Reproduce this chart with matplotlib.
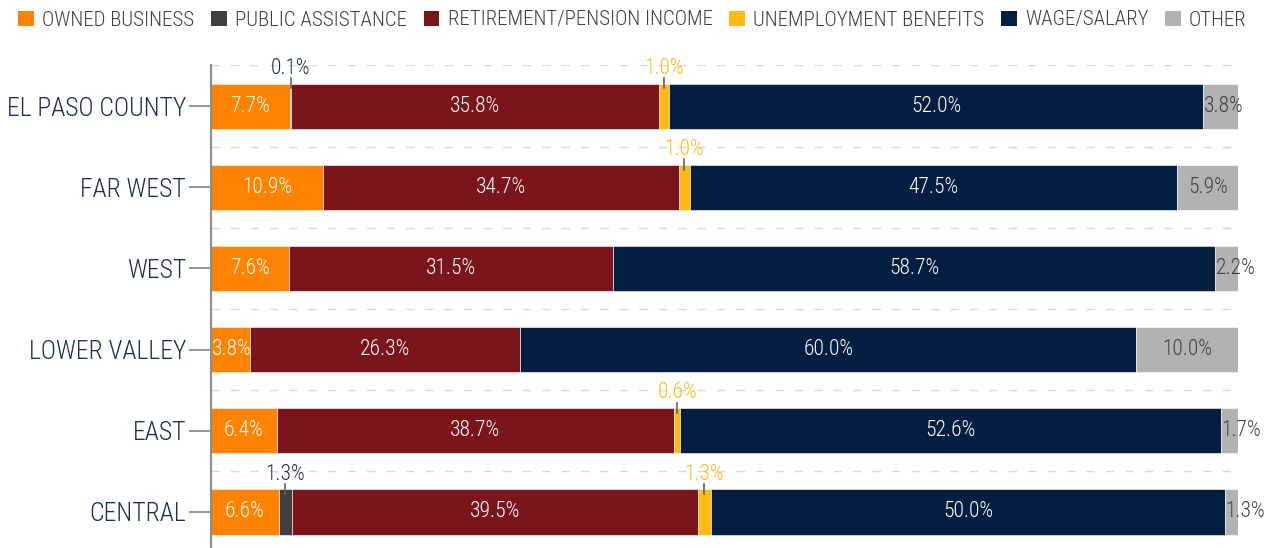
import numpy as np
import matplotlib
matplotlib.use("Agg")
import matplotlib.pyplot as plt
from matplotlib import font_manager
from matplotlib.patches import Patch

names = set(f.name for f in font_manager.fontManager.ttflist)
fam = "Roboto Condensed" if "Roboto Condensed" in names else "Roboto"
plt.rcParams['font.family'] = [fam, 'DejaVu Sans']
plt.rcParams['font.weight'] = 'light'

regions = ["EL PASO COUNTY", "FAR WEST", "WEST", "LOWER VALLEY", "EAST", "CENTRAL"]
series = ["OWNED BUSINESS", "PUBLIC ASSISTANCE", "RETIREMENT/PENSION INCOME",
          "UNEMPLOYMENT BENEFITS", "WAGE/SALARY", "OTHER"]
owned = [7.7, 10.9, 7.6, 3.8, 6.4, 6.6]
public = [0.1, 0.0, 0.0, 0.0, 0.0, 1.3]
retire = [35.8, 34.7, 31.5, 26.3, 38.7, 39.5]
unemp = [1.0, 1.0, 0.0, 0.0, 0.6, 1.3]
wage = [52.0, 47.5, 58.7, 60.0, 52.6, 50.0]
other = [3.8, 5.9, 2.2, 10.0, 1.7, 1.3]
values = [owned, public, retire, unemp, wage, other]

colors = ["#FF8300", "#404040", "#7B151C", "#FDBA12", "#031E41", "#B2B2B2"]
inside_text = ["white", "white", "white", "white", "white", "#404040"]
above_text = ["#404040", "#1F2D4D", "white", "#FDBA12", "white", "#404040"]
label_above = [False, True, False, True, False, False]

fig = plt.figure(figsize=(12.65, 5.48), dpi=100)
ax = fig.add_axes([211/1265, 0, (1238-211)/1265, 1 - 65/548])

y = np.arange(len(regions))
h = 0.556
left = np.zeros(len(regions))
for k, vals in enumerate(values):
    vals = np.array(vals)
    ax.barh(y, vals, left=left, height=h, color=colors[k], edgecolor="white", linewidth=0.4)
    for i, v in enumerate(vals):
        if v <= 0:
            continue
        cx = left[i] + v / 2
        if label_above[k]:
            top = y[i] - h / 2
            ax.plot([cx, cx], [top - 0.07, top + 0.06], color="#606060", lw=1.2, zorder=4)
            ax.text(cx, top - 0.06, f"{v:.1f}%", ha="center", va="bottom",
                    color=above_text[k], fontsize=15.5)
        elif v < 4:
            ax.text(left[i] + 0.05, y[i], f"{v:.1f}%", ha="left", va="center",
                    color=inside_text[k], fontsize=15.5)
        else:
            ax.text(cx, y[i], f"{v:.1f}%", ha="center", va="center",
                    color=inside_text[k], fontsize=15.5)
    left += vals

ax.set_xlim(0, 100)
ax.set_ylim(5.444, -0.506)
ax.set_yticks(y)
ax.set_yticklabels(regions, fontsize=18.5, color="#1F2D4D")
ax.set_yticks(np.arange(-0.5, 5, 1), minor=True)
ax.tick_params(axis="y", which="major", length=16, width=1.3, color="#8C8C8C", pad=2)
ax.tick_params(axis="y", which="minor", length=0)
ax.grid(axis="y", which="minor", color="#D9D9D9", linestyle=(0, (6, 8)), linewidth=1)
ax.set_axisbelow(True)
ax.set_xticks([])
for s in ["top", "right", "bottom"]:
    ax.spines[s].set_visible(False)
ax.spines["left"].set_color("#8C8C8C")
ax.spines["left"].set_linewidth(1.5)

handles = [Patch(facecolor=c, edgecolor="none") for c in colors]
fig.legend(handles, series, loc="center", bbox_to_anchor=(0.5, 1 - 20/548), ncol=6,
           frameon=False, fontsize=15, handlelength=0.75, handleheight=0.75,
           handletextpad=0.4, columnspacing=0.8, labelcolor="#404040")

fig.savefig("out.png", dpi=100)
